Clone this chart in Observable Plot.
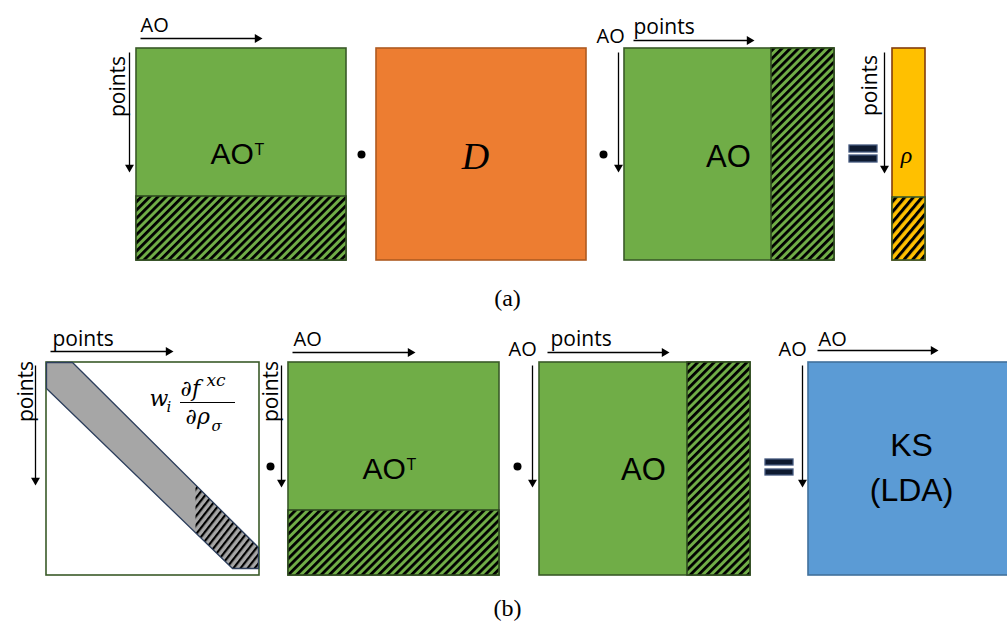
<!DOCTYPE html>
<html><head><meta charset="utf-8">
<script src="https://cdn.jsdelivr.net/npm/d3@7"></script>
<script src="https://cdn.jsdelivr.net/npm/@observablehq/plot@0.6"></script>
<style>body{margin:0;background:#fff} svg{display:block}</style>
</head><body><div id="chart"></div>
<script>
// ---- diagram data (pixel coordinate system of the figure) ----
const boxes = [
  {name:"a AO^T", x1:136, x2:346, y1:48,  y2:260, fill:"#70ad47", stroke:"#3a5a28"},
  {name:"a D",    x1:376, x2:586, y1:48,  y2:260, fill:"#ed7d31", stroke:"#ae5a21"},
  {name:"a AO",   x1:624, x2:834, y1:48,  y2:260, fill:"#70ad47", stroke:"#3a5a28"},
  {name:"a rho",  x1:892, x2:925, y1:48,  y2:260, fill:"#ffc000", stroke:"#843c0c"},
  {name:"b W",    x1:46,  x2:259, y1:362, y2:575, fill:"#ffffff", stroke:"#3a5a28"},
  {name:"b AO^T", x1:288, x2:499, y1:362, y2:575, fill:"#70ad47", stroke:"#3a5a28"},
  {name:"b AO",   x1:539, x2:750, y1:362, y2:575, fill:"#70ad47", stroke:"#3a5a28"},
  {name:"b KS",   x1:808, x2:1015,y1:362, y2:575, fill:"#5b9bd5", stroke:"#41719c"}
];
const hatches = [
  {name:"a AO^T rows", x1:136, x2:346, y1:196, y2:260, fill:"url(#hatchGreen)", stroke:"#2f4a20"},
  {name:"a AO cols",   x1:771, x2:834, y1:48,  y2:260, fill:"url(#hatchGreen)", stroke:"#2f4a20"},
  {name:"a rho rows",  x1:892, x2:925, y1:197, y2:260, fill:"url(#hatchYellow)", stroke:"#3a5a28"},
  {name:"b AO^T rows", x1:288, x2:499, y1:510, y2:575, fill:"url(#hatchGreen)", stroke:"#2f4a20"},
  {name:"b AO cols",   x1:687, x2:750, y1:362, y2:575, fill:"url(#hatchGreen)", stroke:"#2f4a20"}
];
const band = [[46,362],[72,362],[258,547],[258,568],[232,568],[46,388],[46,362]];
const bandHatch = [[195,484],[258,547],[258,568],[232,568],[195,532],[195,484]];
const equalsBars = [
  {x1:849, x2:877, y1:145, y2:152}, {x1:849, x2:877, y1:155, y2:162},
  {x1:765, x2:793, y1:459, y2:465}, {x1:765, x2:793, y1:469, y2:475}
];
const productDots = [{x:361, y:154}, {x:603, y:154}, {x:270, y:466}, {x:517, y:466}];
const arrows = [
  {x1:140, y1:38,  x2:262, y2:38},
  {x1:129, y1:52,  x2:129, y2:172},
  {x1:633, y1:40,  x2:754, y2:40},
  {x1:618, y1:52,  x2:618, y2:172},
  {x1:884, y1:52,  x2:884, y2:173},
  {x1:50,  y1:351, x2:173, y2:351},
  {x1:35,  y1:365, x2:35,  y2:485},
  {x1:292, y1:352, x2:415, y2:352},
  {x1:281, y1:365, x2:281, y2:487},
  {x1:547, y1:352, x2:669, y2:352},
  {x1:532, y1:365, x2:532, y2:487},
  {x1:817, y1:350, x2:938, y2:350},
  {x1:802, y1:365, x2:802, y2:487}
];
const fracBar = [{x1:180, x2:235, y:402}];
const labels = [
  {t:"AO", x:210, y:163, s:30, a:"start", big:true},
  {t:"T", x:254, y:154, s:16, a:"start", big:true},
  {t:"AO", x:140, y:31, s:20, a:"start"},
  {t:"points", x:118, y:86, s:21, r:-90},
  {t:"D", x:475, y:168, s:38, serif:true, it:true},
  {t:"AO", x:728, y:166, s:31, big:true},
  {t:"AO", x:596, y:42, s:20, a:"start"},
  {t:"points", x:633, y:33, s:21, a:"start"},
  {t:"points", x:870, y:85, s:21, r:-90},
  {t:"ρ", x:906, y:162, s:24, serif:true, it:true},
  {t:"(a)", x:507, y:305, s:24, serif:true},
  {t:"points", x:52, y:345, s:21, a:"start"},
  {t:"points", x:26, y:391, s:21, r:-90},
  {t:"w", x:149, y:405, s:22, math:true, a:"start"},
  {t:"i", x:166, y:411, s:15, math:true, a:"start"},
  {t:"∂f", x:180, y:395, s:22, math:true, a:"start"},
  {t:"xc", x:206, y:385, s:17, math:true, a:"start"},
  {t:"∂ρ", x:185, y:423, s:22, math:true, a:"start"},
  {t:"σ", x:211, y:430, s:15, math:true, a:"start"},
  {t:"points", x:271, y:391, s:21, r:-90},
  {t:"AO", x:293, y:345, s:20, a:"start"},
  {t:"AO", x:362, y:478, s:30, a:"start", big:true},
  {t:"T", x:406, y:469, s:16, a:"start", big:true},
  {t:"AO", x:508, y:355, s:20, a:"start"},
  {t:"points", x:550, y:345, s:21, a:"start"},
  {t:"AO", x:643, y:479, s:31, big:true},
  {t:"AO", x:778, y:355, s:20, a:"start"},
  {t:"AO", x:818, y:345, s:20, a:"start"},
  {t:"KS", x:911, y:455, s:32, big:true},
  {t:"(LDA)", x:911, y:500, s:32, big:true},
  {t:"(b)", x:507, y:615, s:24, serif:true}
];

// ---- arrowhead geometry derived from arrows ----
const headR = 3.3;
const tipOffset = 2 * Math.sqrt(headR * headR * Math.PI / (3 * Math.sqrt(3)));
const heads = arrows.map(a => {
  const dx = a.x2 - a.x1, dy = a.y2 - a.y1, L = Math.hypot(dx, dy);
  return {x: a.x2 - dx / L * tipOffset, y: a.y2 - dy / L * tipOffset,
          rot: Math.atan2(dy, dx) * 180 / Math.PI + 90};
});
const shafts = arrows.map((a, i) => ({x1: a.x1, y1: a.y1, x2: heads[i].x, y2: heads[i].y}));

const textMarks = labels.map(l => Plot.text([l], {
  x: "x", y: "y", text: "t",
  fontSize: l.s,
  fontFamily: l.math ? "DejaVu Serif" : l.serif ? "Liberation Serif" : (l.big ? "Liberation Sans" : "Open Sans"),
  fontStyle: (l.it || l.math) ? "italic" : "normal",
  textAnchor: l.a || "middle",
  lineAnchor: l.r ? "middle" : "bottom",
  rotate: l.r || 0,
  fill: "black"
}));

const chart = Plot.plot({
  width: 1007, height: 621, margin: 0,
  x: {domain: [0, 1007], range: [0, 1007], axis: null},
  y: {domain: [0, 621], range: [0, 621], axis: null},
  style: {background: "white", overflow: "hidden"},
  marks: [
    Plot.rect(boxes, {x1:"x1", x2:"x2", y1:"y1", y2:"y2", fill:"fill", stroke:"stroke", strokeWidth:1.6}),
    Plot.line(band, {x: d => d[0], y: d => d[1], fill:"#a6a6a6", stroke:"none"}),
    Plot.line(bandHatch, {x: d => d[0], y: d => d[1], fill:"url(#hatchGray)", stroke:"none"}),
    Plot.line(band, {x: d => d[0], y: d => d[1], fill:"none", stroke:"#2c3e5c", strokeWidth:1.3}),
    Plot.rect(hatches, {x1:"x1", x2:"x2", y1:"y1", y2:"y2", fill:"fill", stroke:"stroke", strokeWidth:1.6}),
    Plot.rect(equalsBars, {x1:"x1", x2:"x2", y1:"y1", y2:"y2", fill:"#0e1a30", stroke:"#44587e", strokeWidth:1.3}),
    Plot.dot(productDots, {x:"x", y:"y", r:4, fill:"black", stroke:"none"}),
    Plot.link(shafts, {x1:"x1", y1:"y1", x2:"x2", y2:"y2", stroke:"black", strokeWidth:1.3}),
    Plot.dot(heads, {x:"x", y:"y", symbol:"triangle", r:headR, rotate:"rot", fill:"black", stroke:"none"}),
    Plot.ruleY(fracBar, {x1:"x1", x2:"x2", y:"y", stroke:"black", strokeWidth:1.2}),
    ...textMarks
  ]
});

const defs = `<defs>
<pattern id="hatchGreen" patternUnits="userSpaceOnUse" width="5.8" height="10" patternTransform="rotate(45)">
  <rect width="5.8" height="10" fill="#70ad47"/><rect width="2.8" height="10" fill="#000"/></pattern>
<pattern id="hatchYellow" patternUnits="userSpaceOnUse" width="6.6" height="10" patternTransform="rotate(40)">
  <rect width="6.6" height="10" fill="#ffc000"/><rect width="3" height="10" fill="#000"/></pattern>
<pattern id="hatchGray" patternUnits="userSpaceOnUse" width="5.6" height="10" patternTransform="rotate(38)">
  <rect width="5.6" height="10" fill="#a6a6a6"/><rect width="2.2" height="10" fill="#000"/></pattern>
</defs>`;
chart.insertAdjacentHTML("afterbegin", defs);
document.getElementById("chart").appendChild(chart);
</script>
</body></html>
